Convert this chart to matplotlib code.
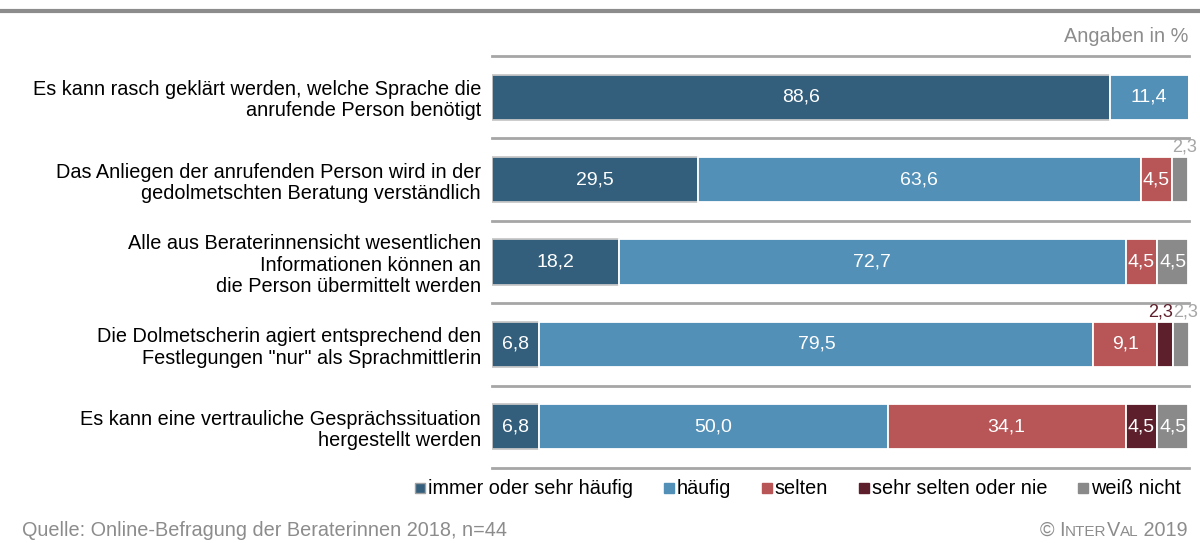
import matplotlib.pyplot as plt
from matplotlib.lines import Line2D

plt.rcParams['font.family'] = ['Liberation Sans', 'DejaVu Sans']

categories = [
    'Es kann rasch geklärt werden, welche Sprache die\nanrufende Person benötigt',
    'Das Anliegen der anrufenden Person wird in der\ngedolmetschten Beratung verständlich',
    'Alle aus Beraterinnensicht wesentlichen\nInformationen können an\ndie Person übermittelt werden',
    'Die Dolmetscherin agiert entsprechend den\nFestlegungen "nur" als Sprachmittlerin',
    'Es kann eine vertrauliche Gesprächssituation\nhergestellt werden',
]
series_names = ['immer oder sehr häufig', 'häufig', 'selten', 'sehr selten oder nie', 'weiß nicht']
immer = [88.6, 29.5, 18.2, 6.8, 6.8]
haeufig = [11.4, 63.6, 72.7, 79.5, 50.0]
selten = [0, 4.5, 4.5, 9.1, 34.1]
nie = [0, 0, 0, 2.3, 4.5]
weiss = [0, 2.3, 4.5, 2.3, 4.5]

colors = ['#335f7c', '#5390b7', '#b85557', '#5e1f2c', '#8a8a8a']
small_label_colors = ['#335f7c', '#5390b7', '#b85557', '#5e1f2c', '#a6a6a6']
gray = '#8c8c8c'

fig = plt.figure(figsize=(12, 5.43), dpi=100)
ax = fig.add_axes([0.41, 0.1381, 0.5808, 0.7587])

y = list(range(len(categories)))
left = [0.0] * len(categories)
for i, vals in enumerate([immer, haeufig, selten, nie, weiss]):
    edge = '#c8c8c8' if i == 0 else 'white'
    ax.barh(y, vals, left=left, height=0.55, color=colors[i], edgecolor=edge, linewidth=1.3)
    for j, v in enumerate(vals):
        if v <= 0:
            continue
        lbl = f'{v:.1f}'.replace('.', ',')
        if v >= 4:
            ax.text(left[j] + v / 2, j, lbl, ha='center', va='center', color='white', fontsize=14)
        elif i == 3:
            ax.text(left[j] + v, j - 0.29, lbl, ha='right', va='bottom',
                    color=small_label_colors[i], fontsize=13)
        else:
            ax.text(left[j], j - 0.29, lbl, ha='left', va='bottom',
                    color=small_label_colors[i], fontsize=13)
    left = [l + v for l, v in zip(left, vals)]

for k in range(len(categories) + 1):
    ax.axhline(k - 0.5, color='#a6a6a6', linewidth=2, clip_on=False)

ax.set_xlim(0, 100)
ax.set_ylim(len(categories) - 0.5, -0.5)
ax.set_yticks(y)
ax.set_yticklabels(categories, fontsize=14.3, linespacing=1.15)
ax.tick_params(axis='y', length=0, pad=8)
ax.set_xticks([])
for s in ax.spines.values():
    s.set_visible(False)

# top rule and unit note
fig.add_artist(Line2D([0, 1], [1 - 11 / 543, 1 - 11 / 543], color=gray, linewidth=3))
fig.text(0.99, 1 - 37 / 543, 'Angaben in %', ha='right', va='center', color=gray, fontsize=14.3)

handles = []
for i, c in enumerate(colors):
    handles.append(Line2D([], [], marker='s', linestyle='none', markersize=7.5,
                          markerfacecolor=c, markeredgecolor='#a0a0a0' if i == 0 else c))
fig.legend(handles, series_names, loc='center right', bbox_to_anchor=(0.984, 1 - 489 / 543),
           ncol=5, frameon=False, fontsize=14.3, handlelength=0.6, handletextpad=0.1,
           columnspacing=1.5, borderpad=0, borderaxespad=0)

# footer
fig.text(22 / 1200, 1 - 530 / 543, 'Quelle: Online-Befragung der Beraterinnen 2018, n=44',
         ha='left', va='center', color=gray, fontsize=14.3)
base = 1 - 536 / 543
parts = [(' 2019', 14.3), ('AL', 11), ('V', 14.3), ('NTER', 11), ('© I', 14.3)]
prev = fig.text(0.99, base, parts[0][0], ha='right', va='baseline', color=gray, fontsize=parts[0][1])
for txt, fs in parts[1:]:
    prev = fig.add_artist(plt.Annotation(txt, xy=(0, base), xycoords=(prev, 'figure fraction'),
                                         ha='right', va='baseline', color=gray, fontsize=fs))

fig.savefig('out.png', dpi=100)
